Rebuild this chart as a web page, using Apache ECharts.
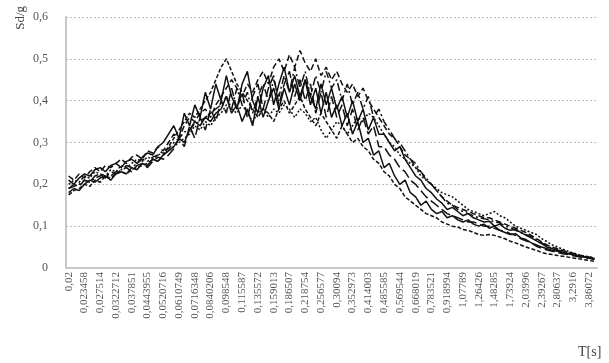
<!DOCTYPE html>
<html><head><meta charset="utf-8">
<script src="https://cdn.jsdelivr.net/npm/echarts@6/dist/echarts.min.js"></script>
<style>html,body{margin:0;padding:0;background:#fff}#c{width:609px;height:363px}</style>
</head><body><div id="c"></div>
<script>
var periods = ["0,02","0,021092","0,022243","0,023458","0,024738","0,026089","0,027514","0,029016","0,0306","0,0322712","0,034033","0,03589","0,037851","0,039917","0,042096","0,0443955","0,046819","0,049374","0,0520716","0,054914","0,057912","0,0610749","0,064409","0,067925","0,0716348","0,075545","0,079668","0,0840206","0,088607","0,093444","0,098548","0,103927","0,1096","0,115587","0,121896","0,12855","0,135572","0,142972","0,150776","0,159013","0,167693","0,176846","0,186507","0,196687","0,207423","0,218754","0,230695","0,243287","0,256577","0,270582","0,285352","0,30094","0,317367","0,33469","0,352973","0,37224","0,392558","0,414003","0,436601","0,460433","0,485585","0,51209","0,540043","0,569544","0,600633","0,633419","0,668019","0,704483","0,742936","0,783521","0,82629","0,871393","0,918994","0,969157","1,02206","1,07789","1,13673","1,19878","1,26426","1,33327","1,40604","1,48285","1,56379","1,64915","1,73924","1,83418","1,9343","2,03996","2,15131","2,26874","2,39267","2,52327","2,661","2,80637","2,95955","3,1211","3,2916","3,47127","3,66075","3,86072","4"];

var rec1 = [.21,.20,.215,.225,.22,.235,.24,.23,.245,.25, .24,.255,.26,.25,.265,.275,.27,.29,.30,.32, .34,.31,.37,.34,.39,.36,.42,.38,.44,.40, .46,.41,.38,.44,.47,.40,.37,.43,.46,.39, .44,.48,.42,.46,.41,.45,.39,.43,.37,.42, .36,.39,.34,.37,.32,.35,.30,.31,.27,.28, .24,.25,.22,.20,.21,.18,.17,.15,.16,.14, .13,.135,.12,.125,.115,.11,.115,.105,.10,.105, .095,.10,.09,.085,.08,.082,.072,.068,.06,.055, .05,.046,.042,.04,.036,.034,.031,.028,.026,.024, .022];
var rec2 = [.18,.19,.185,.20,.21,.205,.215,.22,.21,.225, .23,.225,.24,.235,.25,.245,.26,.255,.27,.28, .29,.31,.30,.33,.35,.34,.36,.35,.37,.38, .41,.37,.39,.35,.38,.34,.41,.36,.40,.43, .38,.43,.39,.44,.40,.45,.41,.38,.44,.39, .43,.38,.41,.36,.40,.35,.38,.33,.36,.32, .32,.30,.28,.29,.26,.24,.22,.21,.19,.18, .165,.155,.14,.145,.135,.125,.13,.12,.115,.11, .112,.10,.105,.095,.09,.092,.085,.078,.072,.065, .058,.05,.046,.042,.038,.035,.033,.029,.027,.025, .02];
var rec3 = [.22,.21,.225,.215,.23,.24,.23,.245,.24,.25, .26,.25,.265,.27,.26,.28,.275,.29,.28,.30, .32,.31,.34,.36,.35,.37,.38,.36,.39,.41, .43,.45,.43,.41,.44,.42,.45,.47,.44,.48, .50,.47,.51,.48,.52,.49,.47,.50,.46,.48, .45,.47,.44,.42,.44,.41,.43,.40,.38,.36, .34,.32,.31,.29,.27,.26,.24,.23,.21,.20, .185,.17,.16,.15,.145,.14,.135,.13,.125,.12, .12,.115,.11,.105,.10,.095,.09,.085,.078,.07, .062,.055,.05,.046,.042,.038,.035,.031,.028,.026, .024];
var rec4 = [.19,.20,.195,.21,.205,.22,.225,.215,.23,.225, .235,.24,.23,.245,.25,.24,.255,.265,.26,.27, .285,.31,.29,.34,.31,.36,.33,.38,.35,.40, .37,.43,.38,.42,.36,.41,.44,.38,.43,.46, .39,.44,.47,.41,.45,.40,.44,.37,.42,.36, .41,.36,.39,.34,.38,.33,.36,.32,.34,.29, .29,.27,.26,.24,.23,.21,.20,.185,.17,.16, .15,.14,.13,.125,.12,.115,.11,.11,.105,.10, .10,.095,.09,.088,.082,.078,.07,.065,.06,.052, .047,.043,.04,.037,.034,.032,.029,.027,.025,.023, .021];
var rec5 = [.20,.21,.205,.22,.215,.23,.225,.22,.235,.23, .245,.24,.25,.26,.255,.265,.26,.27,.275,.28, .29,.30,.31,.32,.34,.33,.35,.34,.36,.37, .39,.38,.37,.39,.37,.35,.37,.38,.36,.38, .37,.39,.38,.36,.38,.37,.35,.36,.33,.31, .33,.35,.34,.32,.34,.36,.35,.37,.36,.34, .32,.30,.29,.27,.26,.25,.24,.22,.21,.20, .19,.18,.175,.17,.16,.15,.14,.135,.13,.125, .13,.135,.125,.12,.11,.10,.095,.09,.085,.08, .07,.063,.055,.05,.045,.04,.036,.032,.029,.027, .024];
var rec6 = [.19,.195,.20,.21,.205,.215,.22,.225,.22,.23, .235,.245,.24,.25,.26,.255,.265,.27,.28,.285, .30,.31,.325,.33,.345,.35,.36,.37,.38,.39, .41,.38,.43,.39,.42,.37,.41,.44,.40,.45, .41,.46,.42,.48,.43,.47,.41,.46,.42,.47, .43,.45,.40,.44,.39,.42,.38,.41,.36,.38, .35,.33,.31,.30,.28,.26,.25,.23,.215,.20, .185,.17,.155,.15,.14,.135,.13,.125,.12,.118, .115,.11,.108,.10,.097,.09,.085,.08,.075,.068, .06,.052,.047,.043,.04,.037,.034,.031,.028,.025, .023];
var rec7 = [.175,.185,.19,.20,.195,.21,.205,.22,.215,.225, .23,.225,.235,.24,.245,.25,.26,.255,.27,.29, .31,.33,.35,.37,.36,.38,.40,.42,.45,.48, .50,.47,.44,.42,.40,.38,.36,.38,.37,.35, .38,.40,.37,.39,.41,.38,.36,.34,.37,.35, .33,.31,.34,.32,.30,.31,.29,.28,.26,.25, .23,.22,.20,.19,.17,.16,.15,.14,.13,.125, .12,.11,.105,.10,.098,.092,.09,.085,.08,.078, .08,.078,.074,.07,.064,.06,.055,.05,.046,.042, .037,.034,.032,.03,.028,.026,.024,.022,.02,.018, .016];

var yTicks = ["0","0,1","0,2","0,3","0,4","0,5","0,6"];

var records = [rec1, rec2, rec3, rec4, rec5, rec6, rec7];
var dashes = ['solid','solid',[6,3],[10,4],[2,2],[8,3,2,3],[4,2]];

var chart = echarts.init(document.getElementById('c'), null, {renderer:'canvas'});
var font = '"Liberation Serif", "DejaVu Serif", serif';
chart.setOption({
  animation:false,
  backgroundColor:'#fff',
  grid:{left:66, right:12, top:17, bottom:95, containLabel:false},
  xAxis:{
    type:'category', data:periods, boundaryGap:true,
    axisLine:{lineStyle:{color:'#c8c8c8', width:2}},
    axisTick:{show:false},
    axisLabel:{interval:2, rotate:90, fontFamily:font, fontSize:11, color:'#555', margin:4},
    splitLine:{show:false}
  },
  yAxis:{
    type:'value', min:0, max:0.6, interval:0.1,
    axisLine:{show:true, lineStyle:{color:'#c8c8c8', width:2}},
    axisTick:{show:false},
    axisLabel:{fontFamily:font, fontSize:12, color:'#555', margin:18,
      formatter:function(v){return yTicks[Math.round(v*10)];}},
    splitLine:{show:true, lineStyle:{color:'#bdbdbd', type:[2,2], width:1}}
  },
  series: records.map(function(r,k){
    return {type:'line', data:r, symbol:'none', smooth:false,
      lineStyle:{color:'#111', width:1.5, type:dashes[k]}};
  }),
  graphic:[
    {type:'text', left:14, top:6, rotation:Math.PI/2,
     style:{text:'Sd/g', font:'13px '+font, fill:'#444'}},
    {type:'text', left:578, top:345,
     style:{text:'T[s]', font:'14px '+font, fill:'#444'}}
  ]
});
</script></body></html>
